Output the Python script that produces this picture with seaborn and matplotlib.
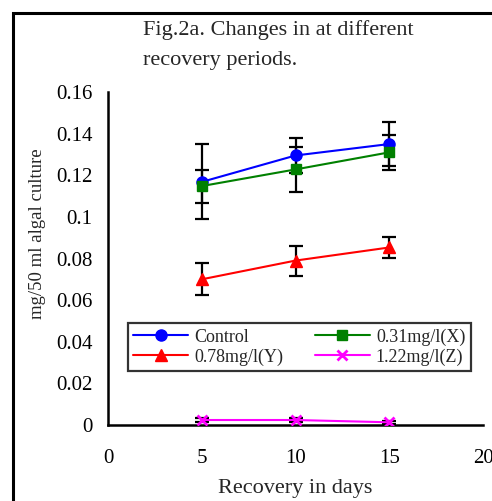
import matplotlib
matplotlib.use("Agg")
import matplotlib.pyplot as plt
import seaborn as sns
import pandas as pd
from matplotlib.patches import Rectangle

days = [5, 10, 15]
labels = ["Control", "0.31mg/l(X)", "0.78mg/l(Y)", "1.22mg/l(Z)"]
control = [0.1168, 0.1295, 0.1350]
control_err = [0.0180, 0.0085, 0.0105]
x_vals = [0.1148, 0.1228, 0.1310]
x_err = [0.0079, 0.0110, 0.0083]
y_vals = [0.0700, 0.0790, 0.0853]
y_err = [0.0077, 0.0072, 0.0050]
z_vals = [0.0024, 0.0024, 0.0013]
z_err = [0.0008, 0.0008, 0.0008]

colors = ["#0000FF", "#008000", "#FF0000", "#FF00FF"]
markers = ["o", "s", "^", "x"]
msizes = [8, 7, 9, 7]

sns.set_style("white")
plt.rcParams["font.family"] = ["Liberation Serif", "DejaVu Serif"]

fig = plt.figure(figsize=(4.92, 5.01), dpi=100)
ax = fig.add_axes([108/492, 1-425/501, (483-108)/492, (425-92)/501])

series = [control, x_vals, y_vals, z_vals]
errs = [control_err, x_err, y_err, z_err]
for vals, err in zip(series, errs):
    ax.errorbar(days, vals, yerr=err, fmt="none", ecolor="black",
                elinewidth=1.6, capsize=5, capthick=1.6, zorder=2)

for lab, vals, c, m, ms in zip(labels, series, colors, markers, msizes):
    df = pd.DataFrame({"day": days, "val": vals})
    sns.lineplot(data=df, x="day", y="val", ax=ax, color=c, marker=m,
                 markersize=ms, linewidth=1.5, label=lab,
                 markeredgecolor=c, markeredgewidth=(2 if m == "x" else 1),
                 zorder=3)

ax.set_xlim(0, 20)
ax.set_ylim(0, 0.16)
ax.set_xticks([0, 5, 10, 15, 20])
ax.set_xticklabels(["0", "5", "10", "15", "20"])
ax.set_yticks([0, 0.02, 0.04, 0.06, 0.08, 0.1, 0.12, 0.14, 0.16])
ax.set_yticklabels(["0", "0.02", "0.04", "0.06", "0.08", "0.1", "0.12", "0.14", "0.16"])
ax.tick_params(axis="both", direction="inout", length=10, width=1.5,
               labelsize=15, colors="black", pad=6)
ax.tick_params(axis="x", pad=12)
for s in ["top", "right"]:
    ax.spines[s].set_visible(False)
for s in ["left", "bottom"]:
    ax.spines[s].set_color("black")
    ax.spines[s].set_linewidth(1.8)
ax.set_xlabel("")
ax.set_ylabel("")
ax.set_facecolor("white")

fig.text(38/492, 1-234/501, "mg/50 ml algal culture", rotation=90,
         ha="center", va="center", fontsize=13.5)
fig.text(295/492, 1-489/501, "Recovery in days", ha="center", va="center",
         fontsize=16)
fig.text(143/492, 1-30/501, "Fig.2a. Changes in at different",
         ha="left", va="center", fontsize=16)
fig.text(143/492, 1-61/501, "recovery periods.", ha="left", va="center",
         fontsize=16)

handles, labs = ax.get_legend_handles_labels()
order = [0, 2, 1, 3]
leg = ax.legend([handles[i] for i in order], [labs[i] for i in order],
                ncol=2, loc="upper left",
                bbox_to_anchor=(128/492, 1-323/501),
                bbox_transform=fig.transFigure,
                fontsize=13, frameon=True, fancybox=False, handlelength=3.0,
                borderpad=0.3, labelspacing=0.15, columnspacing=1.8,
                handletextpad=0.35, borderaxespad=0)
leg.get_frame().set_edgecolor("black")
leg.get_frame().set_linewidth(1.6)

fig.patches.append(Rectangle((13/492, -0.1), 1.2, 1-13/501+0.1,
                             transform=fig.transFigure, fill=False,
                             edgecolor="black", linewidth=2.2))

fig.savefig("out.png", dpi=100, facecolor="white")
